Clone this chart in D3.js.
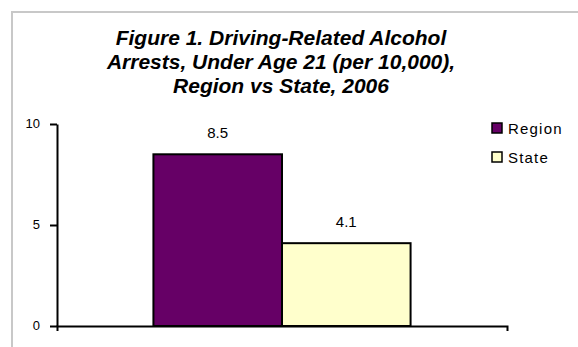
<!DOCTYPE html>
<html>
<head>
<meta charset="utf-8">
<script src="https://cdn.jsdelivr.net/npm/d3@7"></script>
<style>
  html, body { margin: 0; padding: 0; background: #fff; }
  svg { display: block; font-family: "Liberation Sans", Arial, sans-serif; }
</style>
</head>
<body>
<svg id="chart" width="578" height="347"></svg>
<script>
// Chart data
const titleLines = [
  "Figure 1. Driving-Related Alcohol",
  "Arrests, Under Age 21 (per 10,000),",
  "Region vs State, 2006"
];
const categories = ["2006"];
const seriesNames = ["Region", "State"];
const seriesValues = [8.5, 4.1];
const seriesColors = ["#660066", "#ffffcc"];
const yTicks = [0, 5, 10];

const svg = d3.select("#chart");
const W = 578, H = 347;

// outer frame of the chart area
svg.append("rect").attr("width", W).attr("height", H).attr("fill", "#fff");
svg.append("path")
  .attr("d", `M12,${H} V12 H${W}`)
  .attr("fill", "none")
  .attr("stroke", "#c8c8c8")
  .attr("stroke-width", 2);

// title
const titleX = 281;
const title = svg.append("text")
  .attr("text-anchor", "middle")
  .attr("font-weight", "bold")
  .attr("font-style", "italic")
  .attr("font-size", 21)
  .attr("fill", "#000");
titleLines.forEach((t, i) => {
  title.append("tspan").attr("x", titleX).attr("y", 45 + i * 24).text(t);
});

// plot area
const plot = { left: 57, right: 507, top: 124, bottom: 326 };

const y = d3.scaleLinear().domain([0, 10]).range([plot.bottom, plot.top]);
const x0 = d3.scaleBand().domain(categories).range([plot.left, plot.right]).padding(0);
// clusters keep a 75% gap width, as in the category band
const groupWidth = x0.bandwidth() / 1.75;
const x1 = d3.scaleBand().domain(seriesNames).range([0, groupWidth]).padding(0);

// y axis
const yAxis = d3.axisLeft(y).tickValues(yTicks).tickSize(7).tickSizeOuter(0).tickPadding(10);
const gy = svg.append("g").attr("transform", `translate(${plot.left},0)`).call(yAxis);
gy.select(".domain").attr("stroke", "#000").attr("stroke-width", 2);
gy.selectAll(".tick line").attr("stroke", "#000").attr("stroke-width", 2);
gy.selectAll(".tick text")
  .attr("font-family", "'Liberation Sans', Arial, sans-serif")
  .attr("font-size", 13)
  .attr("fill", "#000")
  .attr("dy", "0.3em");

// bars
const groups = svg.append("g").selectAll("g")
  .data(categories)
  .join("g")
  .attr("transform", d => `translate(${x0(d) + (x0.bandwidth() - groupWidth) / 2},0)`);

groups.selectAll("rect")
  .data(() => seriesNames.map((s, i) => ({ s, v: seriesValues[i], c: seriesColors[i] })))
  .join("rect")
  .attr("x", d => x1(d.s))
  .attr("y", d => y(d.v))
  .attr("width", x1.bandwidth())
  .attr("height", d => y(0) - y(d.v))
  .attr("fill", d => d.c)
  .attr("stroke", "#000")
  .attr("stroke-width", 2);

groups.selectAll("text")
  .data(() => seriesNames.map((s, i) => ({ s, v: seriesValues[i] })))
  .join("text")
  .attr("x", d => x1(d.s) + x1.bandwidth() / 2)
  .attr("y", d => y(d.v) - 16)
  .attr("text-anchor", "middle")
  .attr("font-size", 15)
  .attr("fill", "#000")
  .text(d => d3.format(".1f")(d.v));

// x axis with boundary tick marks
const xAxis = d3.axisBottom(x0).tickSize(0).tickSizeOuter(5).tickFormat("");
const gx = svg.append("g").attr("transform", `translate(0,${plot.bottom})`).call(xAxis);
gx.select(".domain").attr("stroke", "#000").attr("stroke-width", 2);

// legend
const legend = svg.append("g").attr("transform", "translate(492,123)");
const items = legend.selectAll("g")
  .data(seriesNames.map((s, i) => ({ s, c: seriesColors[i] })))
  .join("g")
  .attr("transform", (d, i) => `translate(0,${i * 29})`);
items.append("rect")
  .attr("width", 10).attr("height", 10)
  .attr("fill", d => d.c)
  .attr("stroke", "#000")
  .attr("stroke-width", 1.5);
items.append("text")
  .attr("x", 16)
  .attr("y", 11)
  .attr("font-size", 15)
  .attr("letter-spacing", 1.2)
  .attr("fill", "#000")
  .text(d => d.s);
</script>
</body>
</html>
